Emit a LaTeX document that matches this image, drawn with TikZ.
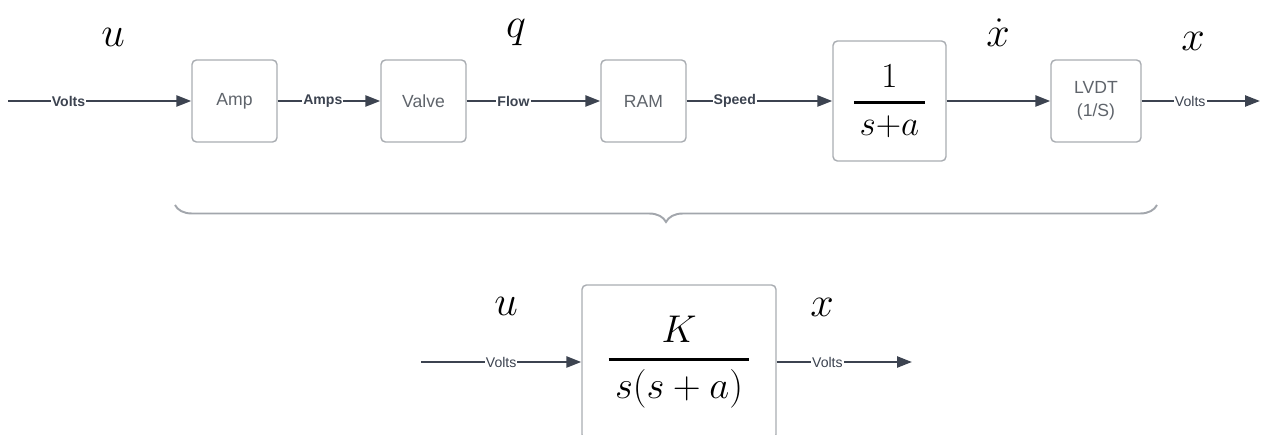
\RequirePackage{fix-cm}
\documentclass[tikz,border=0pt]{standalone}
\usepackage{amsmath}
\usepackage[no-math]{fontspec}
\newfontfamily\arialfont{Liberation Sans}
\usetikzlibrary{arrows.meta,decorations.pathreplacing}
\definecolor{boxgray}{HTML}{A9ADB2}
\definecolor{wiredark}{HTML}{3C4350}
\definecolor{labelgray}{HTML}{5F646B}
\definecolor{bracegray}{HTML}{A2A6AC}
\tikzset{
  blk/.style={rectangle, rounded corners=2.5pt, draw=boxgray, fill=white, line width=0.8pt, minimum width=1.7cm, minimum height=1.64cm, align=center, text=labelgray, font=\arialfont\fontsize{10}{13}\selectfont},
  tfblk/.style={blk, text=black, font=\fontsize{20}{24}\selectfont},
  sig/.style={-{Triangle[length=3mm,width=2.2mm]}, draw=wiredark, line width=1.4pt},
  wirelbl/.style={fill=white, inner sep=0.6pt, text=wiredark, font=\arialfont\bfseries\fontsize{8}{9}\selectfont},
  wirelblthin/.style={wirelbl, font=\arialfont\fontsize{8}{9}\selectfont},
  varlbl/.style={inner sep=0pt, font=\fontsize{24}{28}\selectfont},
  bracelbl/.style={draw=bracegray, line width=1.1pt, decorate, decoration={brace, amplitude=0.34cm}}
}
\begin{document}
\begin{tikzpicture}[x=0.02cm, y=-0.02cm]
  \useasboundingbox (0,0) rectangle (1261,435);
  \clip (0,0) rectangle (1261,435);

  % chain of components
  \coordinate (in) at (8,101);
  \node[blk] (amp) at (234.5,101) {Amp};
  \node[blk] (valve) at (423.5,101) {Valve};
  \node[blk] (ram) at (643.5,101) {RAM};
  \node[tfblk, minimum width=2.26cm, minimum height=2.4cm] (lag) at (889.5,101) {$\genfrac{}{}{1.6pt}{0}{\,1\,}{\,s{+}a\,}$};
  \node[blk, minimum width=1.8cm] (lvdt) at (1096,101) {LVDT\\(1/S)};
  \coordinate (out) at (1260,101);

  \draw[sig] (in) -- node[wirelbl, pos=0.33] {Volts} (amp);
  \draw[sig] (amp) -- node[wirelbl, pos=0.44] {Amps} (valve);
  \draw[sig] (valve) -- node[wirelbl, pos=0.35] {Flow} (ram);
  \draw[sig] (ram) -- node[wirelbl, pos=0.33] {Speed} (lag);
  \draw[sig] (lag) -- (lvdt);
  \draw[sig] (lvdt) -- node[wirelblthin, pos=0.41] {Volts} (out);

  \node[varlbl] (u1) at (113,37) {$u$};
  \node[varlbl] (q1) at (516,33) {$q$};
  \node[varlbl] (xd1) at (998,33) {$\dot{x}$};
  \node[varlbl] (x1) at (1193,41) {$x$};

  % grouping brace
  \draw[bracelbl] (1157,205) -- (175,205);

  % reduced system
  \coordinate (in2) at (421,362);
  \node[tfblk, minimum width=3.88cm, minimum height=3.08cm, font=\fontsize{22}{26}\selectfont] (plant) at (679,362) {$\genfrac{}{}{1.6pt}{0}{K}{\,s(s+a)\,}$};
  \coordinate (out2) at (912,362);
  \draw[sig] (in2) -- node[wirelblthin, pos=0.5] {Volts} (plant);
  \draw[sig] (plant) -- node[wirelblthin, pos=0.375] {Volts} (out2);

  \node[varlbl] (u2) at (506,306) {$u$};
  \node[varlbl] (x2) at (822,307) {$x$};
\end{tikzpicture}
\end{document}
